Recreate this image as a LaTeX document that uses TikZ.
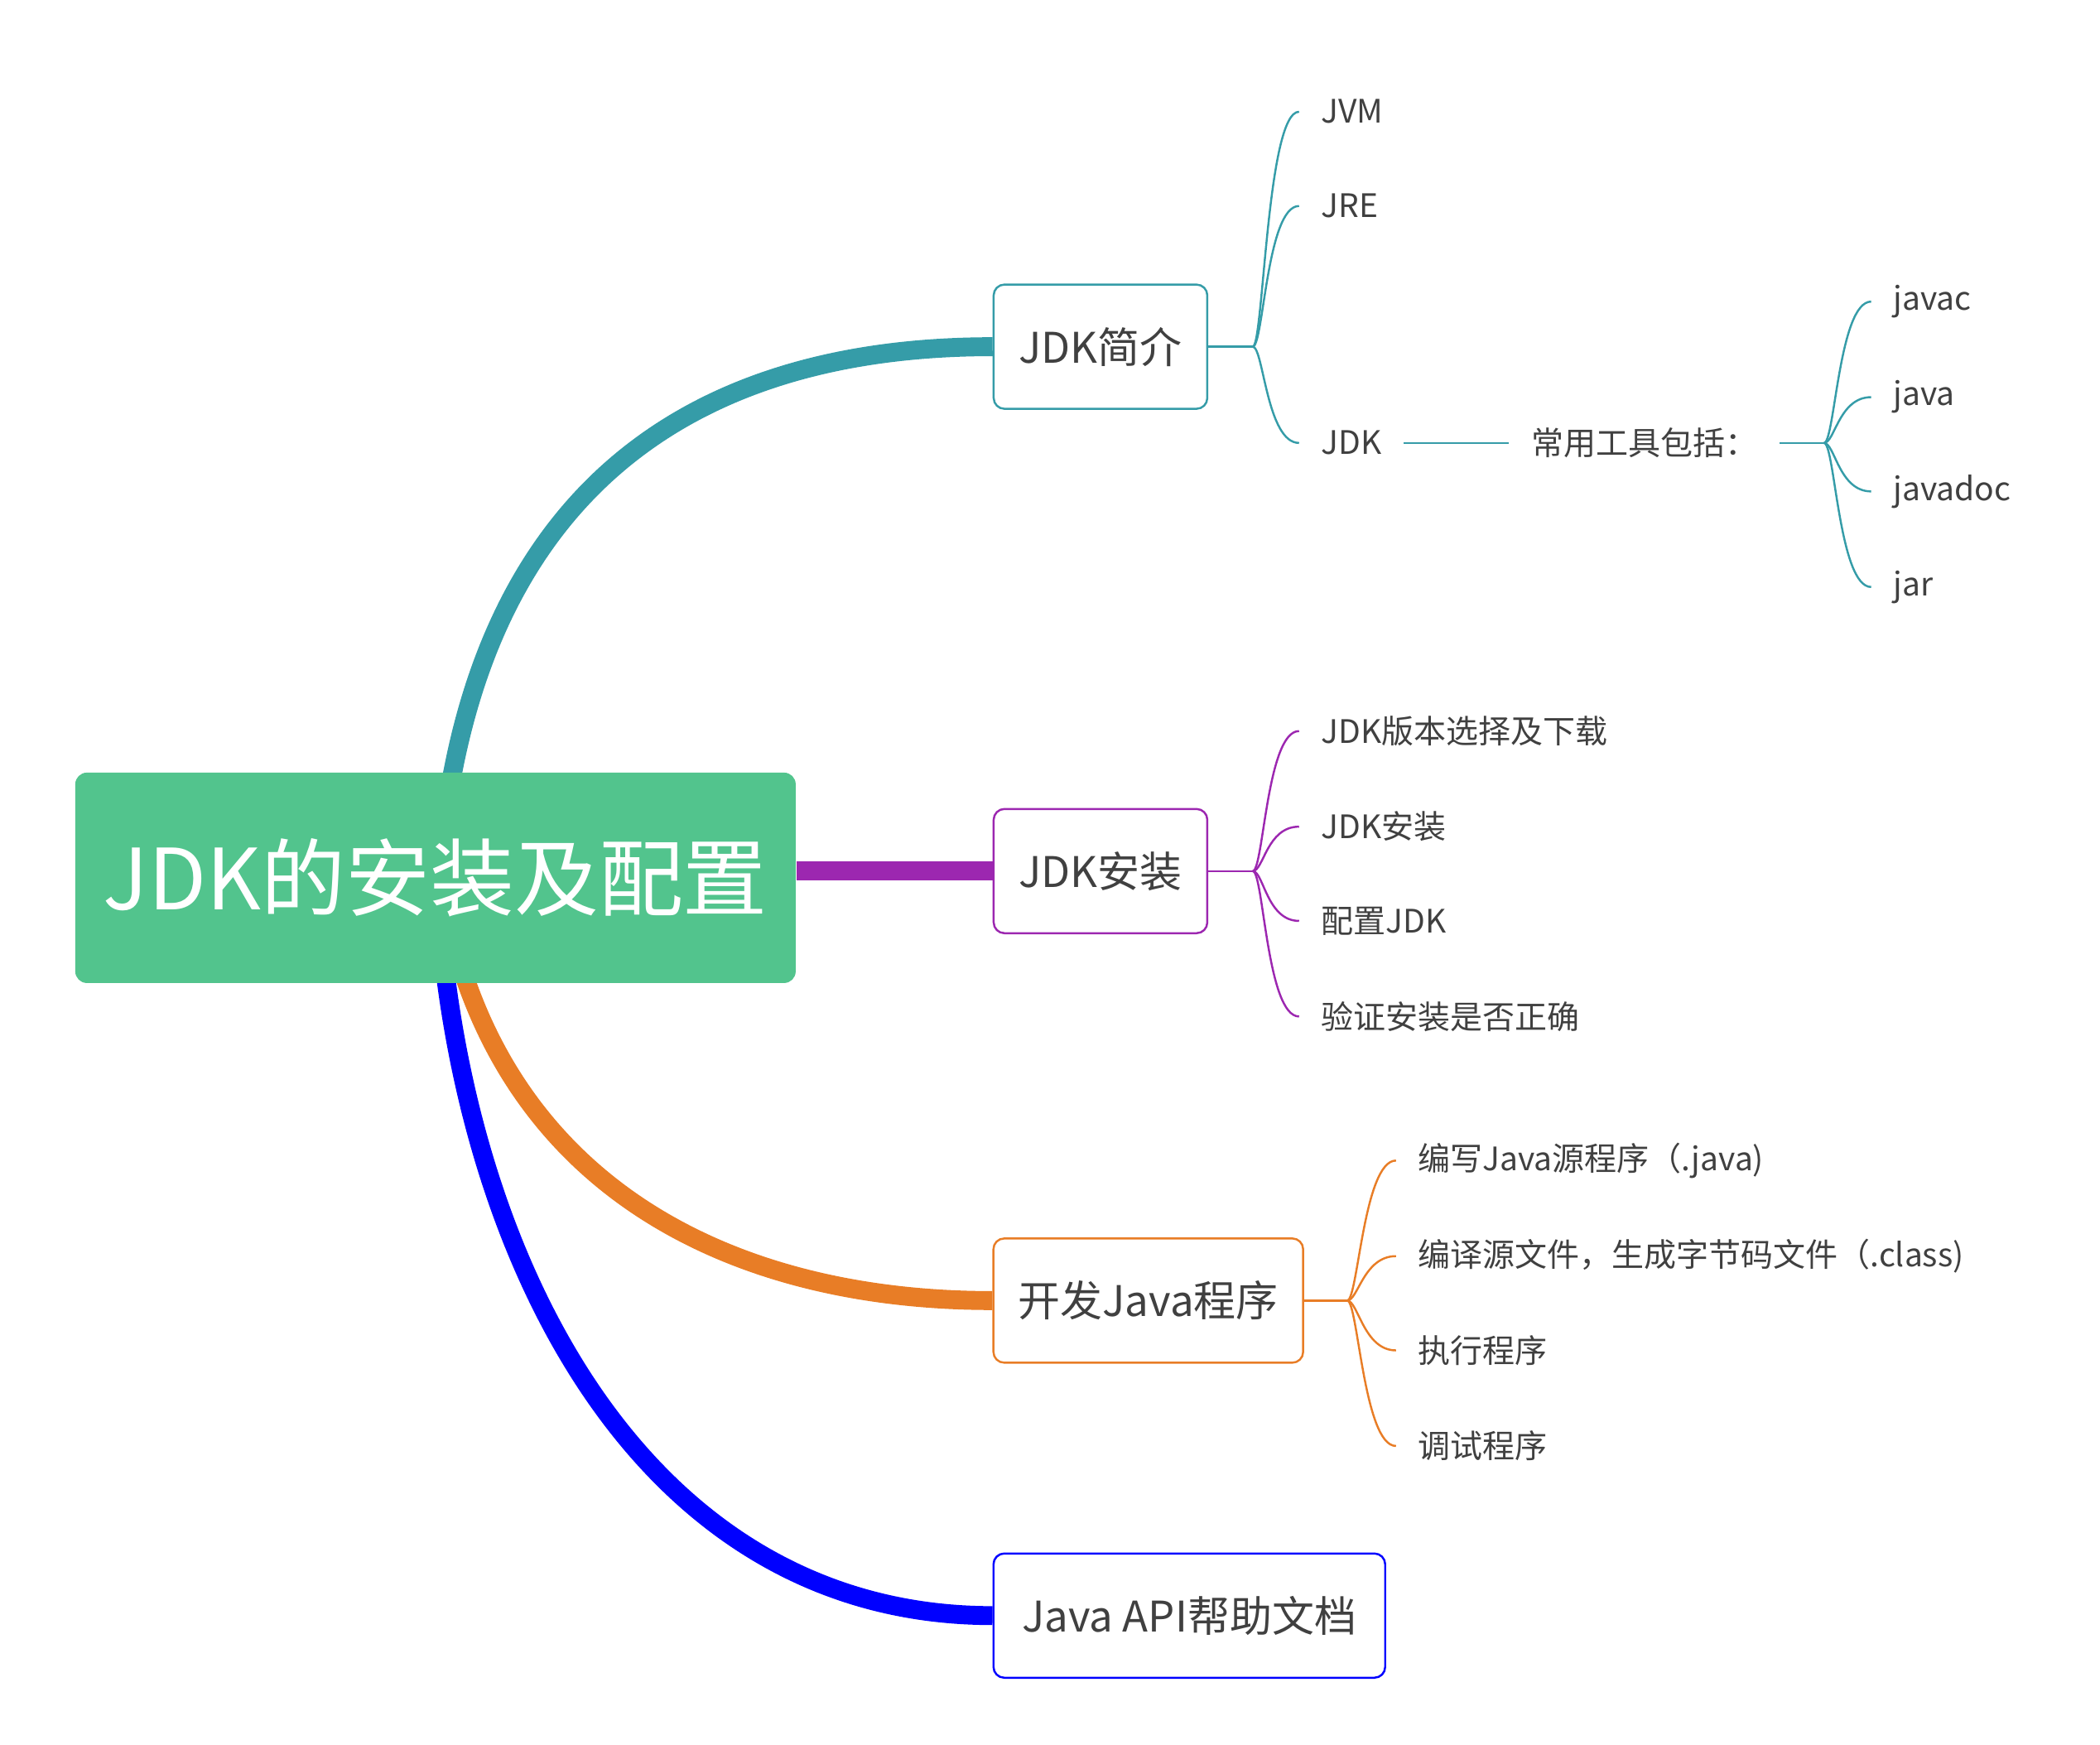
\documentclass[tikz,border=0pt]{standalone}
\usepackage{fontspec}
\setmainfont{Noto Sans CJK SC}
\usepackage{tikz}
\usetikzlibrary{
    calc,
    backgrounds
}
\definecolor{rootgreen}{RGB}{82,196,141}
\definecolor{tealline}{RGB}{53,156,168}
\definecolor{purpleline}{RGB}{156,39,176}
\definecolor{orangeline}{RGB}{232,125,38}
\definecolor{blueline}{RGB}{0,0,255}
\definecolor{textgray}{RGB}{64,64,64}
\tikzset{
    roottopic/.style={fill=rootgreen, rounded corners=1.4mm, text=white,
        minimum width=87mm, minimum height=25.4mm, inner sep=0pt,
        font=\fontsize{29}{33}\selectfont},
    topic/.style={draw=#1, fill=white, line width=0.7pt, rounded corners=1.3mm,
        text=textgray, minimum height=15mm, inner sep=0pt,
        font=\fontsize{14.5}{17}\selectfont},
    leaf/.style={anchor=west, inner xsep=2.6mm, inner ysep=0pt, text=textgray,
        font=\fontsize{11.1}{13.5}\selectfont},
    branch/.style={draw=#1, line width=6.5pt},
    twig/.style={draw=#1, line width=0.7pt}
}

\begin{document}
\begin{tikzpicture}[x=0.16256mm, y=-0.16256mm]
    \useasboundingbox (0,0) rectangle (1560,1295.5);

    \draw (323.5,652) node[roottopic](root){JDK的安装及配置};

    \draw (817.5,257.5) node[topic=tealline, minimum width=25.8mm](intro){JDK简介};
    \draw (817.5,647) node[topic=purpleline, minimum width=25.8mm](install){JDK安装};
    \draw (853,966) node[topic=orangeline, minimum width=37.4mm](develop){开发Java程序};
    \draw (883.5,1200) node[topic=blueline, minimum width=47.3mm](apidoc){Java API帮助文档};

    % JDK简介
    \draw (965,83) node[leaf](jvm){JVM};
    \draw (965,153) node[leaf](jre){JRE};
    \draw (965,329) node[leaf](jdk){JDK};
    \draw (1121,329) node[leaf](tools){常用工具包括：};
    \draw (1390,224) node[leaf](javac){javac};
    \draw (1390,295) node[leaf](java){java};
    \draw (1390,365) node[leaf](javadoc){javadoc};
    \draw (1390,436) node[leaf](jar){jar};

    % JDK安装
    \draw (965,543) node[leaf](download){JDK版本选择及下载};
    \draw (965,614) node[leaf](setup){JDK安装};
    \draw (965,684) node[leaf](config){配置JDK};
    \draw (965,755) node[leaf](verify){验证安装是否正确};

    % 开发Java程序
    \draw (1037,862) node[leaf](write){编写Java源程序（.java)};
    \draw (1037,933) node[leaf](compile){编译源文件，生成字节码文件（.class)};
    \draw (1037,1003) node[leaf](run){执行程序};
    \draw (1037,1074) node[leaf](debug){调试程序};

    \coordinate (toolsfork) at (1355,329);

    \begin{scope}[on background layer]
        \draw[branch=tealline] ($(root.north)+(11,10)$) to[out=80, in=180, looseness=1.1] (intro.west);
        \draw[branch=purpleline] (root.east |- install.west) -- (install.west);
        \draw[branch=orangeline] ($(root.south)+(20,-10)$) to[out=-72, in=180] (develop.west);
        \draw[branch=blueline] ($(root.south)+(7,-10)$) to[out=-83, in=180] (apidoc.west);

        \draw[twig=tealline] (intro.east) -- ++(33,0) coordinate(introfork);
        \foreach \n in {jvm,jre,jdk}
            \draw[twig=tealline] (introfork) .. controls +(8,0) and +(-24,0) .. (\n.west);
        \draw[twig=tealline] (jdk.east) -- (tools.west);
        \draw[twig=tealline] (tools.east) -- (toolsfork);
        \foreach \n in {javac,java,javadoc,jar}
            \draw[twig=tealline] (toolsfork) .. controls +(8,0) and +(-24,0) .. (\n.west);

        \draw[twig=purpleline] (install.east) -- ++(33,0) coordinate(installfork);
        \foreach \n in {download,setup,config,verify}
            \draw[twig=purpleline] (installfork) .. controls +(8,0) and +(-24,0) .. (\n.west);

        \draw[twig=orangeline] (develop.east) -- ++(32,0) coordinate(developfork);
        \foreach \n in {write,compile,run,debug}
            \draw[twig=orangeline] (developfork) .. controls +(8,0) and +(-24,0) .. (\n.west);
    \end{scope}
\end{tikzpicture}
\end{document}
